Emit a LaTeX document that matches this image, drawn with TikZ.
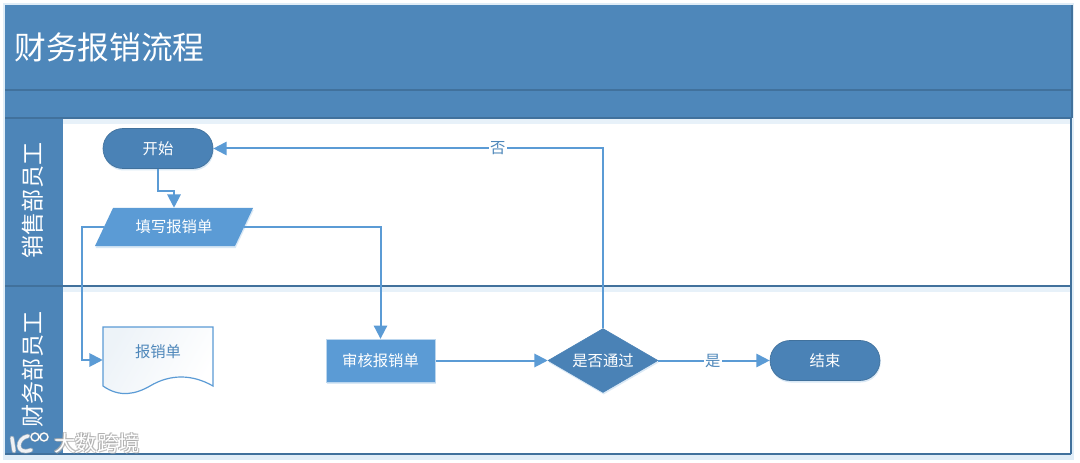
\documentclass[tikz,border=0pt]{standalone}
\usepackage{fontspec}
\setmainfont{Noto Sans CJK SC}
\usetikzlibrary{arrows.meta,shapes.geometric,shapes.misc,shadows,calc}
\definecolor{hdr}{HTML}{4E87BA}
\definecolor{hdrdark}{HTML}{41719C}
\definecolor{bluefill}{HTML}{5B9BD5}
\definecolor{darkfill}{HTML}{4A82B6}
\definecolor{lane}{HTML}{4D85B8}
\definecolor{halo}{HTML}{BBD6EE}
\tikzset{
  softshadow/.style={drop shadow={shadow xshift=0.5pt,shadow yshift=-1.5pt,fill=halo,opacity=.55}},
  pill/.style={rounded rectangle,draw=hdrdark,line width=.5pt,fill=darkfill,minimum width=82.5pt,minimum height=30pt,inner sep=0pt,text=white,font=\fontsize{11.5}{13}\selectfont,softshadow},
  procbox/.style={rectangle,draw=halo,line width=.5pt,fill=bluefill,minimum width=82pt,minimum height=32pt,inner sep=0pt,text=white,font=\fontsize{11.5}{13}\selectfont,softshadow},
  decision/.style={diamond,aspect=1.72,fill=darkfill,draw=darkfill,line width=.4pt,minimum width=82.5pt,minimum height=48pt,inner sep=0pt,text=white,font=\fontsize{11.5}{13}\selectfont,softshadow},
  ghost/.style={rectangle,inner sep=0pt},
  flow/.style={draw=bluefill,line width=1.5pt,-{Triangle[width=10pt,length=10pt]},rounded corners=0pt},
  edgelabel/.style={fill=white,inner sep=1pt,text=hdr,font=\fontsize{11.5}{13}\selectfont},
  lanelabel/.style={rotate=90,text=white,inner sep=0pt,font=\fontsize{17.3}{20}\selectfont},
  frameline/.style={draw=hdrdark,line width=1.2pt},
}
\begin{document}
\begin{tikzpicture}[x=0.75pt,y=-0.75pt]
\useasboundingbox (0,0) rectangle (1080,463);
\fill[white] (0,0) rectangle (1080,463);
% soft halos of the pool
\fill[halo!45] (3,3) rectangle (1074,460);
\fill[white] (62,119) rectangle (1071,453);
\fill[halo!35] (62,287) rectangle (1071,292);
\fill[halo!35] (62,119) rectangle (1071,124);
% header and lanes
\fill[hdr] (5,5) rectangle (1072,118);
\fill[lane] (5,118) rectangle (63,454);
\draw[frameline] (1072,5) -- (1072,118);
\draw[frameline] (5,90) -- (1072,90);
\draw[frameline] (5,118) -- (1072,118);
\draw[frameline] (5,286) -- (1071,286);
\draw[frameline] (5,454) -- (1071,454);
\draw[frameline] (1071,118) -- (1071,454);
\node[text=white,anchor=west,inner sep=0pt,font=\fontsize{23.8}{26}\selectfont] (title) at (14,47) {财务报销流程};
\node[lanelabel] (laneA) at (33,200.5) {销售部员工};
\node[lanelabel] (laneB) at (33,369.5) {财务部员工};
% shapes
\node[pill] (start) at (158,148.5) {开始};
\fill[bluefill,drop shadow={shadow xshift=0.5pt,shadow yshift=-1.5pt,fill=halo,opacity=.55}]
  (113,208) -- (253,208) -- (235,246) -- (95,246) -- cycle;
\node[ghost,minimum width=105pt,minimum height=28.5pt,text=white,font=\fontsize{11.5}{13}\selectfont] (fill) at (174,227) {填写报销单};
\shade[left color=hdr!10,right color=white,shading angle=60]
  (103,327) -- (213,327) -- (213,386) .. controls (192,374) and (170,374) .. (150,386) .. controls (136,394) and (120,398) .. (103,386) -- cycle;
\draw[bluefill,line width=.9pt]
  (103,327) -- (213,327) -- (213,386) .. controls (192,374) and (170,374) .. (150,386) .. controls (136,394) and (120,398) .. (103,386) -- cycle;
\node[ghost,minimum width=82.5pt,minimum height=50pt,text=hdr,font=\fontsize{11.5}{13}\selectfont] (doc) at (158,360) {};
\node[ghost,text=hdr,font=\fontsize{11.5}{13}\selectfont] (doctext) at (158,352) {报销单};
\node[procbox] (review) at (380.5,360.5) {审核报销单};
\node[decision] (pass) at (603,360.5) {是否通过};
\node[pill] (end) at (825,360.5) {结束};
% connectors
\coordinate (j1) at ($(start.south)+(0,22)$);
\draw[flow] (start.south) -- (j1) -| (fill.north);
\coordinate (j2) at (82,227);
\draw[flow] (fill.west) -- (j2) |- (doc.west);
\draw[flow] (fill.east) -| (review.north);
\draw[flow] (review.east) -- (pass.west);
\draw[flow] (pass.east) -- node[edgelabel,pos=.49] (yes) {是} (end.west);
\draw[flow] (pass.north) |- node[edgelabel,pos=.635] (no) {否} (start.east);
% watermark
\begin{scope}[line cap=round]
  \draw[gray!50,line width=3.4pt,opacity=.7] (12,438) -- (14,451) (28,436) .. controls (16,438) and (15,456) .. (31,450);
  \draw[white,line width=2.4pt,opacity=.85] (12,438) -- (14,451) (28,436) .. controls (16,438) and (15,456) .. (31,450);
  \draw[gray!50,line width=1.4pt,opacity=.7] (35,437) circle[radius=3pt] (44,437) circle[radius=3pt];
  \draw[white,line width=.8pt] (35,437) circle[radius=3pt] (44,437) circle[radius=3pt];
\end{scope}
\foreach \dx/\dy/\nm in {1.2/1.2/a,-.8/.8/b,.8/-.8/c,-.8/-.8/d}
  \node[text=gray!65,opacity=.75,inner sep=0pt,font=\fontsize{16}{18}\selectfont] (wm\nm) at (97+\dx,443+\dy) {大数跨境};
\node[text=white,inner sep=0pt,font=\fontsize{16}{18}\selectfont] (wm) at (97,443) {大数跨境};
\end{tikzpicture}
\end{document}
